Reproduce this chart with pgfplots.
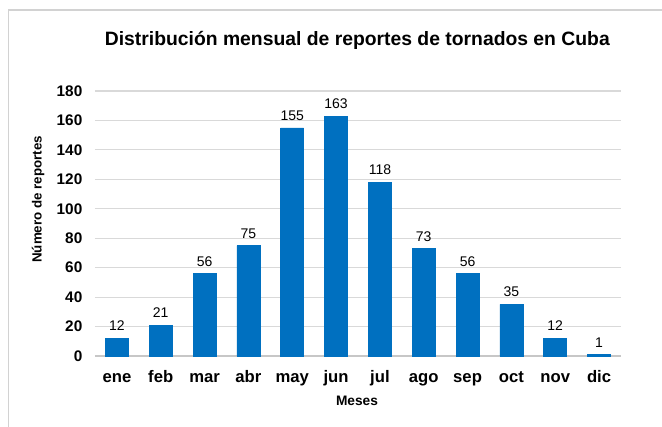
\documentclass[border=0pt]{standalone}
\usepackage{fontspec}
\setmainfont{Liberation Sans}
\usepackage{pgfplots}
\pgfplotsset{compat=1.18}
\definecolor{barblue}{RGB}{0,112,192}
\definecolor{gridgray}{RGB}{217,217,217}
\definecolor{framegray}{RGB}{210,210,210}
\begin{document}
\begin{tikzpicture}[x=1pt,y=1pt]
\path[use as bounding box] (0,0) rectangle (496.5,319.5);
\draw[framegray, line width=0.8pt] (6.5,-20) -- (6.5,312) -- (520,312);
\begin{axis}[
  at={(71.25pt,52.5pt)}, anchor=south west,
  scale only axis,
  width=394.5pt, height=198.75pt,
  ybar, bar width=17.25pt,
  xmin=-0.5, xmax=11.5,
  ymin=0, ymax=180,
  xtick=data,
  xticklabels={ene,feb,mar,abr,may,jun,jul,ago,sep,oct,nov,dic},
  ytick={0,20,...,180},
  /pgf/number format/assume math mode=true,
  y tick label style={font=\fontsize{11.5}{13}\selectfont\bfseries, xshift=-6pt},
  x tick label style={font=\fontsize{12.5}{14}\selectfont\bfseries,
    text height=9pt, text depth=3pt, yshift=-7pt},
  major tick length=0pt,
  axis line style={draw=none},
  ymajorgrids, grid style={gridgray, line width=0.8pt},
  axis x line*=bottom,
  x axis line style={draw=gridgray!80!gray, line width=0.8pt},
  nodes near coords,
  every node near coord/.append style={font=\fontsize{10.5}{12}\selectfont, black, yshift=2pt},
  clip=false,
]
\addplot[fill=barblue, draw=barblue] coordinates {
  (0,12) (1,21) (2,56) (3,75) (4,155) (5,163)
  (6,118) (7,73) (8,56) (9,35) (10,12) (11,1)};
\end{axis}
\node[font=\fontsize{14.5}{17}\selectfont\bfseries] at (268,289.5) {Distribución mensual de reportes de tornados en Cuba};
\node[font=\fontsize{10}{12}\selectfont\bfseries, rotate=90] at (28.5,170) {Número de reportes};
\node[font=\fontsize{10.3}{12}\selectfont\bfseries] at (267.75,18.75) {Meses};
\end{tikzpicture}
\end{document}
